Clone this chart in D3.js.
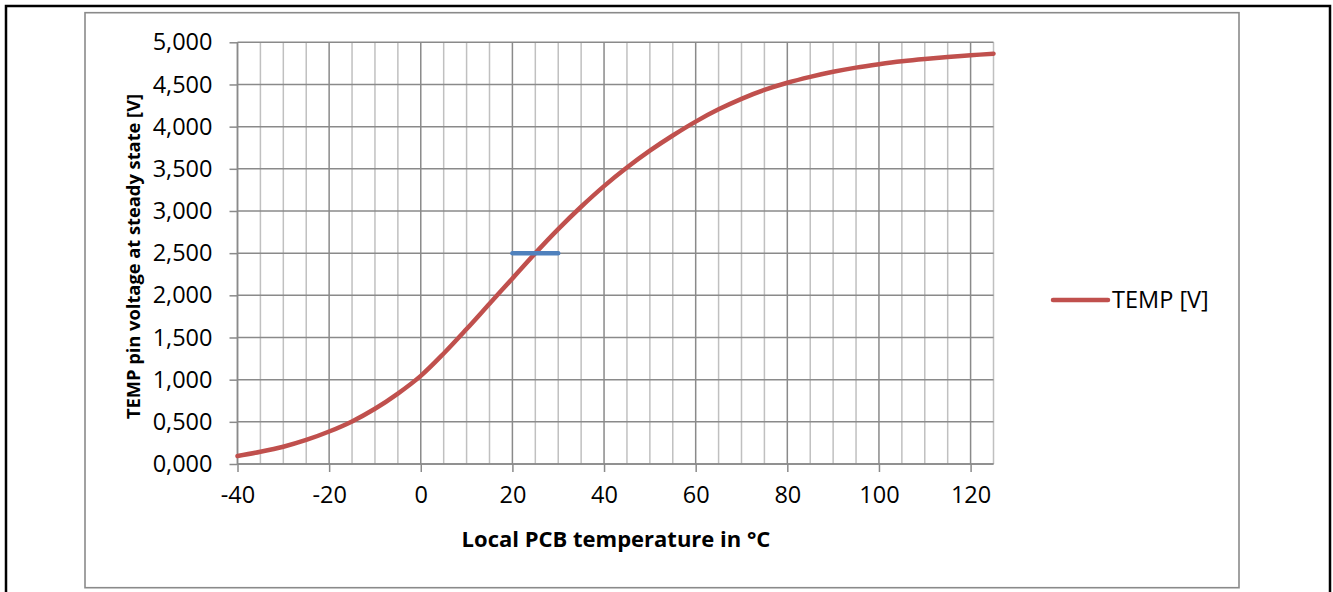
<!DOCTYPE html>
<html>
<head>
<meta charset="utf-8">
<script src="https://cdn.jsdelivr.net/npm/d3@7"></script>
<style>
  html, body { margin: 0; padding: 0; background: #fff; }
  svg { display: block; }
  text { font-family: "Open Sans", "Liberation Sans", sans-serif; fill: #000; }
</style>
</head>
<body>
<svg id="chart" width="1333" height="592"></svg>
<script>
const temps = [-40,-35,-30,-25,-20,-15,-10,-5,0,5,10,15,20,25,30,35,40,45,50,55,60,65,70,75,80,85,90,95,100,105,110,115,120,125];
const volts = [0.095,0.145,0.205,0.285,0.385,0.505,0.655,0.835,1.045,1.31,1.60,1.90,2.20,2.50,2.785,3.05,3.295,3.515,3.715,3.895,4.06,4.205,4.33,4.435,4.52,4.59,4.65,4.70,4.74,4.775,4.803,4.826,4.846,4.865];
const refTemps = [20, 30];
const refVolts = [2.5, 2.5];
const xTicks = [-40,-20,0,20,40,60,80,100,120];
const xMinor = d3.range(-40, 126, 5);
const yTicks = [0,0.5,1,1.5,2,2.5,3,3.5,4,4.5,5];
const seriesName = "TEMP [V]";
const xTitle = "Local PCB temperature in °C";
const yTitle = "TEMP pin voltage at steady state [V]";

const svg = d3.select("#chart");
const pLeft = 237.5, pRight = 993.5, pTop = 42.3, pBottom = 464;
const x = d3.scaleLinear().domain([-40, 125]).range([pLeft, pRight]);
const y = d3.scaleLinear().domain([0, 5]).range([pBottom, pTop]);
const fmt = v => d3.format(".3f")(v).replace(".", ",");

// outer black frame and inner gray chart border
svg.append("rect").attr("x", 6).attr("y", 6).attr("width", 1324).attr("height", 600)
  .attr("fill", "none").attr("stroke", "#000").attr("stroke-width", 2.5);
svg.append("rect").attr("x", 85).attr("y", 12.7).attr("width", 1154).attr("height", 575)
  .attr("fill", "none").attr("stroke", "#8a8a8a").attr("stroke-width", 1.6);

// minor vertical grid
svg.append("g").selectAll("line").data(xMinor.filter(t => !xTicks.includes(t))).join("line")
  .attr("x1", d => x(d)).attr("x2", d => x(d)).attr("y1", pTop).attr("y2", pBottom)
  .attr("stroke", "#c0c0c0").attr("stroke-width", 1.5);
// major vertical grid
svg.append("g").selectAll("line").data(xTicks).join("line")
  .attr("x1", d => x(d)).attr("x2", d => x(d)).attr("y1", pTop).attr("y2", pBottom)
  .attr("stroke", "#8a8a8a").attr("stroke-width", 1.5);
// horizontal grid
svg.append("g").selectAll("line").data(yTicks).join("line")
  .attr("x1", pLeft).attr("x2", pRight).attr("y1", d => y(d)).attr("y2", d => y(d))
  .attr("stroke", "#8a8a8a").attr("stroke-width", 1.5);

// axes
const yAxis = d3.axisLeft(y).tickValues(yTicks).tickFormat(fmt).tickSize(8).tickPadding(17);
const gy = svg.append("g").attr("transform", `translate(${pLeft},0)`).call(yAxis);
const xAxis = d3.axisBottom(x).tickValues(xTicks).tickFormat(d3.format("d")).tickSize(8).tickPadding(14);
const gx = svg.append("g").attr("transform", `translate(0,${pBottom})`).call(xAxis);
[gx, gy].forEach(g => {
  g.select(".domain").attr("stroke", "#8a8a8a").attr("stroke-width", 1.5);
  g.selectAll(".tick line").attr("stroke", "#8a8a8a").attr("stroke-width", 1.5);
  g.selectAll("text").attr("font-family", "'Open Sans', sans-serif").attr("font-size", 23.5).attr("fill", "#000");
});
gx.select(".domain").attr("d", `M${pLeft},0H${pRight}`);
gy.select(".domain").attr("d", `M0,${pBottom}V${pTop}`);
gx.selectAll(".tick text").text(d => d < 0 ? "-" + Math.abs(d) : d);

// titles
svg.append("text").attr("x", 616).attr("y", 547).attr("text-anchor", "middle")
  .attr("font-size", 22).attr("font-weight", "bold").text(xTitle);
svg.append("text").attr("transform", "translate(139.5,256.5) rotate(-90)").attr("text-anchor", "middle")
  .attr("font-size", 18.3).attr("font-weight", "bold").text(yTitle);

// series
const pts = temps.map((t, i) => [t, volts[i]]);
svg.append("path").datum(pts)
  .attr("d", d3.line().x(d => x(d[0])).y(d => y(d[1])).curve(d3.curveCatmullRom.alpha(0.5)))
  .attr("fill", "none").attr("stroke", "#C0504D").attr("stroke-width", 4.5).attr("stroke-linecap", "round");

const ref = refTemps.map((t, i) => [t, refVolts[i]]);
svg.append("path").datum(ref)
  .attr("d", d3.line().x(d => x(d[0])).y(d => y(d[1])))
  .attr("fill", "none").attr("stroke", "#4F81BD").attr("stroke-width", 4.5).attr("stroke-linecap", "round");

// legend
const lg = svg.append("g").attr("transform", "translate(1053,300)");
lg.append("line").attr("x1", 0).attr("x2", 55).attr("y1", 0).attr("y2", 0)
  .attr("stroke", "#C0504D").attr("stroke-width", 4.5).attr("stroke-linecap", "round");
lg.append("text").attr("x", 59).attr("y", 0).attr("dy", "0.35em").attr("font-size", 23.5).text(seriesName);
</script>
</body>
</html>
